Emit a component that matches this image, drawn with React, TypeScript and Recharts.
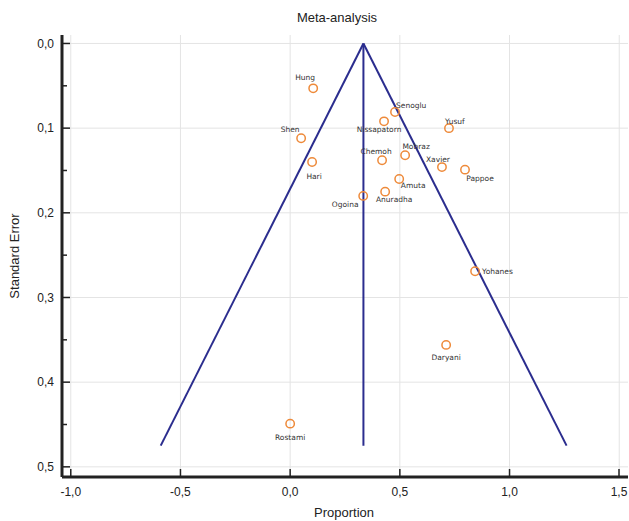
import { ScatterChart, Scatter, XAxis, YAxis, CartesianGrid } from 'recharts';

// studies
const studies = ['Hung', 'Senoglu', 'Nissapatorn', 'Yusuf', 'Shen', 'Hari', 'Chemoh', 'Mobraz', 'Xavier', 'Pappoe', 'Amuta', 'Anuradha', 'Ogoina', 'Yohanes', 'Daryani', 'Rostami'];
const proportions = [0.105, 0.478, 0.428, 0.724, 0.05, 0.10, 0.419, 0.524, 0.692, 0.797, 0.497, 0.433, 0.333, 0.843, 0.711, 0.0];
const standardErrors = [0.053, 0.081, 0.092, 0.100, 0.112, 0.140, 0.138, 0.132, 0.146, 0.149, 0.160, 0.175, 0.180, 0.269, 0.356, 0.449];

// funnel outline (pooled estimate and 95% limits)
const funnelLeft = [{ x: 0.334, y: 0 }, { x: -0.59, y: 0.475 }];
const funnelRight = [{ x: 0.334, y: 0 }, { x: 1.26, y: 0.475 }];
const funnelCenter = [{ x: 0.334, y: 0 }, { x: 0.334, y: 0.475 }];

const xTicks = [-1, -0.5, 0, 0.5, 1, 1.5];
const yTicks = [0, 0.05, 0.1, 0.15, 0.2, 0.25, 0.3, 0.35, 0.4, 0.45, 0.5];
const yGrid = [0, 0.1, 0.2, 0.3, 0.4, 0.5];

// label placement per study: [dx, dy, anchor]
const labelPlace: Record<string, [number, number, string]> = {
  Hung: [-8, -8, 'middle'],
  Senoglu: [1, -4, 'start'],
  Nissapatorn: [-5, 11, 'middle'],
  Yusuf: [-4, -4, 'start'],
  Shen: [-11, -6, 'middle'],
  Hari: [2, 17, 'middle'],
  Chemoh: [-6, -6, 'middle'],
  Mobraz: [11, -6, 'middle'],
  Xavier: [-4, -5, 'middle'],
  Pappoe: [15, 11, 'middle'],
  Amuta: [14, 9, 'middle'],
  Anuradha: [9, 10, 'middle'],
  Ogoina: [-18, 11, 'middle'],
  Yohanes: [7, 3, 'start'],
  Daryani: [0, 15, 'middle'],
  Rostami: [0, 16, 'middle'],
};

const points = studies.map((name, i) => ({ name, x: proportions[i], y: standardErrors[i] }));

const fmt = (v: number) => v.toFixed(1).replace('.', ',');
const font = '"Liberation Sans", Arial, sans-serif';

const StudyDot = (props: any) => {
  const { cx, cy, payload } = props;
  const [dx, dy, anchor] = labelPlace[payload.name] || [0, 12, 'middle'];
  return (
    <g>
      <circle cx={cx} cy={cy} r={4.2} fill="none" stroke="#ee8a3a" strokeWidth={1.5} />
      <text x={cx + dx} y={cy + dy} textAnchor={anchor} fontSize={7.5} fontFamily='"DejaVu Sans", sans-serif' fill="#333">
        {payload.name}
      </text>
    </g>
  );
};

const YTick = (props: any) => {
  const { x, y, payload } = props;
  const major = Math.abs(payload.value * 10 - Math.round(payload.value * 10)) < 1e-6;
  return (
    <g>
      <line x1={x + 8} x2={x + 8 + (major ? 8 : 5)} y1={y} y2={y} stroke="#222" strokeWidth={1.5} />
      {major && (
        <text x={x} y={y} dy="0.355em" textAnchor="end" fontSize={12} fontFamily={font} fill="#222">
          {fmt(payload.value)}
        </text>
      )}
    </g>
  );
};

const XTick = (props: any) => {
  const { x, y, payload } = props;
  return (
    <g>
      <line x1={x} x2={x} y1={y - 10} y2={y - 18} stroke="#222" strokeWidth={1.5} />
      <text x={x} y={y} dy={9} textAnchor="middle" fontSize={12} fontFamily={font} fill="#222">
        {fmt(payload.value)}
      </text>
    </g>
  );
};

const noDot = () => <g />;

export default function App() {
  return (
    <div style={{ position: 'absolute', left: 0, top: 0, width: 629, height: 521, background: '#fff' }}>
      <div style={{ position: 'absolute', left: 0, width: 674, top: 10, textAlign: 'center', fontFamily: font, fontSize: 13, color: '#222' }}>
        Meta-analysis
      </div>
      <div style={{ position: 'absolute', left: 14, top: 256, transform: 'translate(-50%, -50%) rotate(-90deg)', whiteSpace: 'nowrap', fontFamily: font, fontSize: 13, color: '#222' }}>
        Standard Error
      </div>
      <div style={{ position: 'absolute', left: 0, width: 688, top: 505, textAlign: 'center', fontFamily: font, fontSize: 13, color: '#222' }}>
        Proportion
      </div>
      <ScatterChart width={629} height={521} margin={{ top: 35, right: 1, bottom: 0, left: 0 }}>
        <CartesianGrid stroke="#e4e4e4" horizontalValues={yGrid} verticalValues={xTicks} />
        <XAxis
          type="number"
          dataKey="x"
          domain={[-1.04, 1.54]}
          allowDataOverflow
          ticks={xTicks}
          tick={<XTick />}
          tickLine={false}
          tickSize={0}
          tickMargin={10}
          height={44}
          axisLine={{ stroke: '#222', strokeWidth: 3 }}
        />
        <YAxis
          type="number"
          dataKey="y"
          reversed
          domain={[-0.01, 0.512]}
          allowDataOverflow
          ticks={yTicks}
          interval={0}
          tick={<YTick />}
          tickLine={false}
          tickSize={0}
          tickMargin={8}
          width={62}
          axisLine={{ stroke: '#222', strokeWidth: 3 }}
        />
        <Scatter data={funnelLeft} line={{ stroke: '#2b2d8e', strokeWidth: 2 }} shape={noDot} isAnimationActive={false} />
        <Scatter data={funnelRight} line={{ stroke: '#2b2d8e', strokeWidth: 2 }} shape={noDot} isAnimationActive={false} />
        <Scatter data={funnelCenter} line={{ stroke: '#2b2d8e', strokeWidth: 2 }} shape={noDot} isAnimationActive={false} />
        <Scatter data={points} shape={<StudyDot />} isAnimationActive={false} />
      </ScatterChart>
    </div>
  );
}
